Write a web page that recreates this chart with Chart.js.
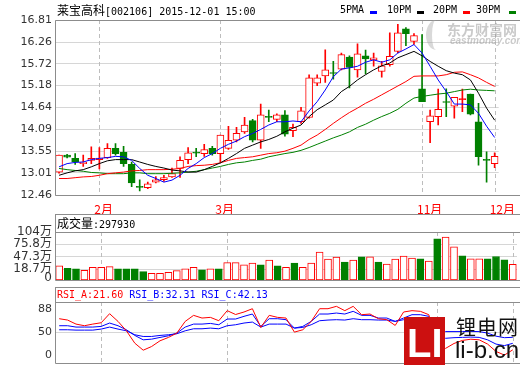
<!DOCTYPE html>
<html>
<head>
<meta charset="utf-8">
<script src="https://cdn.jsdelivr.net/npm/chart.js@4.4.1/dist/chart.umd.min.js"></script>
<style>
  html, body { margin: 0; padding: 0; background: #fff; }
  #wrap { position: relative; width: 520px; height: 365px; overflow: hidden; background: #fff; }
  canvas { position: absolute; left: 0; }
  .t { position: absolute; white-space: nowrap; line-height: 14px; color: #000; }
  .mono { font-family: 'DejaVu Sans Mono', monospace; font-size: 10px; }
  .cjk { font-family: 'Noto Sans CJK SC', sans-serif; font-size: 12px; }
  .key { position: absolute; top: 11px; width: 7px; height: 3px; }
</style>
</head>
<body>
<div id="wrap">
  <canvas id="main" width="520" height="214" style="top:0"></canvas>
  <canvas id="vol" width="520" height="73" style="top:214px"></canvas>
  <canvas id="rsi" width="520" height="78" style="top:287px"></canvas>

  <div class="t" style="left:57px;top:3px"><span class="cjk">莱宝高科</span><span class="mono">[002106] 2015-12-01 15:00</span></div>

  <div class="t mono" style="left:340px;top:3px">5PMA</div>
  <div class="key" style="left:370px;background:#0000ff"></div>
  <div class="t mono" style="left:387px;top:3px">10PM</div>
  <div class="key" style="left:417px;background:#000"></div>
  <div class="t mono" style="left:433px;top:3px">20PM</div>
  <div class="key" style="left:463px;background:#ff0000"></div>
  <div class="t mono" style="left:476px;top:3px">30PM</div>
  <div class="key" style="left:509px;background:#008000"></div>

  <div class="t" style="left:57px;top:216px"><span class="cjk">成交量</span><span class="mono">:297930</span></div>
  <div class="t mono" style="left:57px;top:288px"><span style="color:#ff0000">RSI_A:21.60</span> <span style="color:#0000ff">RSI_B:32.31</span> <span style="color:#0000ff">RSI_C:42.13</span></div>

  <!-- watermarks -->
  <div style="position:absolute;left:426px;top:20px;width:14px;height:30px;border-left:6px solid rgba(170,170,170,0.45);border-radius:50%"></div>
  <div class="t" style="left:447px;top:20px;font:bold 14px 'Noto Sans CJK SC',sans-serif;line-height:18px;color:rgba(150,150,150,0.5)">东方财富网</div>
  <div class="t" style="left:450px;top:36px;font:italic bold 10px 'Liberation Sans',sans-serif;line-height:10px;color:rgba(150,150,150,0.5)">eastmoney.com</div>

  <div style="position:absolute;left:404px;top:317px;width:41px;height:50px;background:#cc1010"></div>
  <div class="t" style="left:407px;top:323px;font:bold 40px 'Liberation Sans',sans-serif;line-height:40px;color:#fff">LI</div>
  <div class="t" style="left:456px;top:316px;font:20px 'Noto Sans CJK SC',sans-serif;line-height:22px;letter-spacing:1px;color:#111">锂电网</div>
  <div class="t" style="left:455px;top:337px;font:24px 'Liberation Sans',sans-serif;line-height:26px;color:#111">li-b.cn</div>
</div>

<script>
// daily candles, oldest first
const open  = [13.03,13.45,13.37,13.24,13.32,13.34,13.39,13.62,13.52,13.22,12.66,12.64,12.78,12.84,12.91,
               13.12,13.34,13.51,13.49,13.62,13.49,13.62,13.82,14.03,14.31,13.82,14.40,14.34,14.45,14.06,
               14.28,14.39,15.24,15.42,15.49,15.59,15.89,15.57,15.92,15.82,15.53,15.70,16.03,16.59,16.28,
               15.10,14.28,14.41,14.78,14.67,14.83,14.97,14.28,13.34,13.24];
const close = [13.45,13.40,13.28,13.28,13.37,13.38,13.62,13.49,13.24,12.76,12.65,12.74,12.84,12.89,12.99,
               13.32,13.51,13.50,13.59,13.49,13.95,13.82,13.99,14.20,13.82,14.45,14.39,14.45,13.97,14.14,
               14.55,15.37,15.37,15.57,15.48,15.95,15.63,15.97,15.84,15.87,15.67,15.91,16.49,16.47,16.42,
               14.78,14.43,14.59,14.76,14.89,14.85,14.47,13.41,13.32,13.42];
const high  = [13.45,13.47,13.49,13.45,13.66,13.64,13.74,13.74,13.67,13.28,12.84,12.78,12.92,12.95,13.13,
               13.41,13.64,13.62,13.72,13.67,13.95,14.17,14.14,14.39,14.34,14.72,14.57,14.48,14.56,14.22,
               14.64,15.45,15.45,16.07,15.78,15.99,15.92,16.22,16.06,15.99,15.78,16.49,16.70,16.62,16.47,
               16.45,14.57,15.09,15.10,14.89,15.09,14.97,14.74,13.53,13.51];
const low   = [13.00,13.38,13.22,13.17,13.24,13.11,13.37,13.45,13.17,12.67,12.56,12.62,12.76,12.80,12.90,
               12.90,13.24,13.41,13.42,13.45,13.28,13.59,13.78,13.99,13.78,13.62,14.28,14.28,13.92,13.91,
               14.24,14.37,15.18,15.26,15.34,15.57,15.12,15.39,15.47,15.66,15.39,15.66,15.99,16.17,16.20,
               14.78,13.76,14.20,14.41,14.37,14.53,14.45,13.20,12.78,13.14];

// moving averages
const ma5  = [13.16,13.24,13.27,13.28,13.34,13.37,13.39,13.42,13.41,13.32,13.12,12.95,12.87,12.78,12.83,
              12.95,13.12,13.24,13.39,13.49,13.62,13.72,13.80,13.91,13.99,14.09,14.20,14.28,14.28,14.30,
              14.28,14.55,14.78,15.07,15.40,15.59,15.62,15.66,15.76,15.82,15.76,15.82,15.99,16.09,16.20,
              15.99,15.66,15.32,15.03,14.72,14.72,14.70,14.49,14.17,13.89];
const ma10 = [12.95,13.01,13.06,13.09,13.16,13.24,13.31,13.34,13.34,13.34,13.28,13.22,13.17,13.13,13.08,
              13.06,13.03,13.03,13.09,13.17,13.26,13.37,13.49,13.62,13.70,13.78,13.84,13.92,14.03,14.12,
              14.20,14.41,14.58,14.70,14.82,15.03,15.16,15.32,15.45,15.57,15.67,15.74,15.87,15.95,16.03,
              15.92,15.78,15.66,15.55,15.49,15.45,15.32,14.99,14.62,14.32];
const ma20 = [12.87,12.87,12.89,12.91,12.92,12.95,12.99,13.01,13.03,13.06,13.07,13.09,13.09,13.09,13.10,
              13.12,13.17,13.19,13.20,13.22,13.26,13.32,13.37,13.39,13.41,13.45,13.49,13.51,13.55,13.62,
              13.70,13.84,13.95,14.09,14.24,14.38,14.51,14.62,14.74,14.84,14.95,15.06,15.17,15.28,15.41,
              15.42,15.42,15.42,15.45,15.51,15.52,15.45,15.37,15.26,15.16];
const ma30 = [13.12,13.09,13.07,13.05,13.02,13.01,12.99,12.99,12.99,13.01,13.01,12.99,12.99,12.99,13.00,
              13.01,13.03,13.05,13.09,13.13,13.17,13.22,13.26,13.28,13.32,13.35,13.41,13.45,13.49,13.52,
              13.57,13.64,13.72,13.80,13.88,13.95,14.03,14.14,14.22,14.32,14.41,14.49,14.59,14.74,14.87,
              14.91,14.94,14.97,14.99,15.03,15.07,15.09,15.07,15.06,15.05];

// volume in 10k shares (万)
const volume = [26.3,21.0,19.4,16.4,23.3,23.3,24.7,19.4,19.4,19.4,13.2,9.5,9.5,11.8,15.5,
                19.4,23.3,17.1,19.4,19.4,33.9,33.9,28.6,32.5,28.6,39.5,26.3,23.3,32.5,23.3,
                32.5,57.9,41.8,46.4,34.9,39.5,47.1,47.1,34.9,30.2,41.8,48.7,44.1,42.5,37.2,
                88.6,92.5,70.1,49.4,42.5,42.5,42.5,47.8,40.2,29.8];

// RSI lines
const rsiA = [72.6,70.4,63.8,61.1,63.8,66.0,80.8,68.2,52.8,32.5,21.0,27.0,36.4,41.9,49.0,
              68.2,78.1,73.7,74.8,69.3,85.8,79.5,83.6,89.0,58.3,78.1,74.8,73.7,50.6,54.5,
              68.2,89.0,89.0,92.9,85.8,92.9,79.2,80.3,72.6,71.0,61.6,83.6,85.8,84.7,79.2,
              27.0,24.0,32.0,37.0,39.0,38.0,31.0,19.0,13.0,21.6];
const rsiB = [61.1,61.1,58.9,58.9,58.9,60.0,65.5,61.1,54.5,45.2,38.0,39.1,41.9,44.6,49.0,
              58.9,63.8,63.8,64.9,62.7,72.1,72.1,76.5,80.3,60.0,72.6,72.6,71.0,57.2,60.0,
              68.2,80.3,80.3,81.9,80.3,84.7,78.1,78.1,73.7,73.7,68.2,73.7,79.2,79.2,76.5,
              42.0,40.5,41.5,42.0,42.5,42.0,38.0,31.0,28.5,32.3];
const rsiC = [54.5,54.5,53.9,53.9,53.9,55.6,58.9,55.6,52.8,46.3,43.5,43.5,45.2,46.3,47.9,
              52.8,56.1,56.1,57.2,56.1,61.1,62.7,65.5,67.1,58.9,63.8,63.8,63.8,57.2,58.3,
              62.7,69.3,70.4,71.0,70.4,72.6,71.0,71.0,70.4,70.4,68.2,71.0,73.7,73.7,72.6,
              52.0,51.5,51.5,51.5,51.8,51.5,49.0,44.0,41.5,42.1];

// axis ticks
const priceTicks = [12.46, 13.01, 13.55, 14.09, 14.64, 15.18, 15.72, 16.26, 16.81];
const volTicks = [0, 18.7, 47.3, 75.8, 104];
const rsiTicks = [0, 50, 88];
const monthAt = [5, 20, 45, 54];
const monthNames = ['2月', '3月', '11月', '12月'];

const RED = '#ff0000', GREEN = '#008000';

const labels = open.map((_, i) => {
  const k = monthAt.indexOf(i);
  return k >= 0 ? monthNames[k] : '';
});
const up = close.map((c, i) => c >= open[i]);
const candleColor = up.map(u => u ? RED : GREEN);
const bodyFill = up.map((u, i) => u ? (Math.abs(close[i] - open[i]) < 0.03 ? RED : '#fff') : GREEN);
const volFill = up.map(u => u ? '#fff' : GREEN);

Chart.defaults.font.family = "'DejaVu Sans', sans-serif";
Chart.defaults.font.size = 11;
Chart.defaults.color = '#333';

// panel frames and dashed month lines
const frame = {
  id: 'frame',
  beforeDatasetsDraw(chart) {
    const { ctx, chartArea: a, scales: { x } } = chart;
    ctx.save();
    ctx.strokeStyle = '#bdbdbd';
    ctx.lineWidth = 1;
    ctx.setLineDash([4, 3]);
    monthAt.forEach(i => {
      const px = Math.round(x.getPixelForValue(i)) + 0.5;
      ctx.beginPath();
      ctx.moveTo(px, a.top);
      ctx.lineTo(px, a.bottom);
      ctx.stroke();
    });
    ctx.restore();
  },
  afterDraw(chart, args, opts) {
    const { ctx, chartArea: a, width } = chart;
    const l = Math.round(a.left) + 0.5;
    ctx.save();
    ctx.strokeStyle = '#8c8c8c';
    ctx.lineWidth = 1;
    const seg = (x1, y1, x2, y2) => { ctx.beginPath(); ctx.moveTo(x1, y1); ctx.lineTo(x2, y2); ctx.stroke(); };
    const top = Math.round(a.top) + 0.5, bot = Math.round(a.bottom) + 0.5;
    if (opts.header) {
      seg(l, 0.5, width, 0.5);
      seg(l, 0, l, bot);
    } else {
      seg(l, top, l, bot);
    }
    seg(l, top, width, top);
    seg(l, bot, width, bot);
    if (opts.zeroLabel) {
      const y = chart.scales.y;
      ctx.fillStyle = '#333';
      ctx.font = "11px 'DejaVu Sans', sans-serif";
      ctx.textAlign = 'right';
      ctx.textBaseline = 'middle';
      ctx.fillText('0', a.left - 3, Math.min(y.getPixelForValue(0), a.bottom - 8));
    }
    ctx.restore();
  }
};

const base = {
  responsive: false,
  animation: false,
  events: [],
  plugins: { legend: { display: false }, tooltip: { enabled: false } }
};

function yAxis(extra) {
  return Object.assign({
    afterFit(s) { s.width = 55; s.paddingTop = 0; s.paddingBottom = 0; },
    border: { display: false },
    grid: { color: '#d6d6d6', drawTicks: false }
  }, extra);
}

// price panel
new Chart(document.getElementById('main'), {
  type: 'bar',
  data: {
    labels,
    datasets: [
      { type: 'line', data: ma5, borderColor: '#0000ff', borderWidth: 1, pointRadius: 0, order: 0 },
      { type: 'line', data: ma10, borderColor: '#000', borderWidth: 1, pointRadius: 0, order: 0 },
      { type: 'line', data: ma20, borderColor: RED, borderWidth: 1, pointRadius: 0, order: 0 },
      { type: 'line', data: ma30, borderColor: GREEN, borderWidth: 1, pointRadius: 0, order: 0 },
      { data: open.map((o, i) => [o, close[i]]), backgroundColor: bodyFill, borderColor: candleColor,
        borderWidth: 1, borderSkipped: false, barThickness: 7, minBarLength: 1, grouped: false, order: 1 },
      { data: low.map((l, i) => [l, high[i]]), backgroundColor: candleColor,
        borderWidth: 0, barThickness: 1, grouped: false, order: 2 }
    ]
  },
  options: Object.assign({}, base, {
    layout: { padding: { top: 20, right: 3, left: 0, bottom: 0 } },
    scales: {
      x: {
        offset: true,
        grid: { display: false },
        border: { display: false },
        afterFit(s) { s.height = 19; },
        ticks: { autoSkip: false, maxRotation: 0, align: 'start', labelOffset: -5, padding: 0,
                 color: RED, font: { family: "'Noto Sans CJK SC', sans-serif", size: 12, lineHeight: 1 } }
      },
      y: yAxis({
        min: 12.46, max: 16.81,
        afterBuildTicks(s) { s.ticks = priceTicks.map(v => ({ value: v })); },
        ticks: { autoSkip: false, padding: 3, color: '#333', callback: v => v.toFixed(2) }
      })
    },
    plugins: Object.assign({}, base.plugins, { frame: {} })
  }),
  plugins: [frame]
});

// volume panel
new Chart(document.getElementById('vol'), {
  type: 'bar',
  data: {
    labels,
    datasets: [
      { data: volume, base: -6, backgroundColor: volFill, borderColor: candleColor, borderWidth: 1,
        borderSkipped: false, barThickness: 7 }
    ]
  },
  options: Object.assign({}, base, {
    layout: { padding: { top: 18, right: 3, left: 0, bottom: 7 } },
    scales: {
      x: { display: false, offset: true },
      y: yAxis({
        min: -6, max: 104,
        afterBuildTicks(s) { s.ticks = volTicks.map(v => ({ value: v })); },
        grid: { drawTicks: false, color: c => (c.tick && c.tick.value === 0) ? 'rgba(0,0,0,0)' : '#d6d6d6' },
        ticks: { autoSkip: false, padding: 3, color: '#333', callback: v => v === 0 ? '0' : v + '万',
                 font: { family: "'DejaVu Sans', 'Noto Sans CJK SC', sans-serif", size: 12, lineHeight: 1 } }
      })
    },
    plugins: Object.assign({}, base.plugins, { frame: { header: true } })
  }),
  plugins: [frame]
});

// RSI panel
new Chart(document.getElementById('rsi'), {
  type: 'line',
  data: {
    labels,
    datasets: [
      { data: rsiA, borderColor: RED, borderWidth: 1, pointRadius: 0 },
      { data: rsiB, borderColor: '#0000ff', borderWidth: 1, pointRadius: 0 },
      { data: rsiC, borderColor: '#0000ff', borderWidth: 1, pointRadius: 0 }
    ]
  },
  options: Object.assign({}, base, {
    layout: { padding: { top: 15, right: 3, left: 0, bottom: 2 } },
    scales: {
      x: { display: false, offset: true },
      y: yAxis({
        min: 0, max: 100,
        afterBuildTicks(s) { s.ticks = rsiTicks.map(v => ({ value: v })); },
        grid: { drawTicks: false, color: c => (c.tick && c.tick.value === 50) ? '#d6d6d6' : 'rgba(0,0,0,0)' },
        ticks: { autoSkip: false, padding: 3, color: '#333', callback: v => v === 0 ? '' : String(v) }
      })
    },
    plugins: Object.assign({}, base.plugins, { frame: { header: true, zeroLabel: true } })
  }),
  plugins: [frame]
});
</script>
</body>
</html>
